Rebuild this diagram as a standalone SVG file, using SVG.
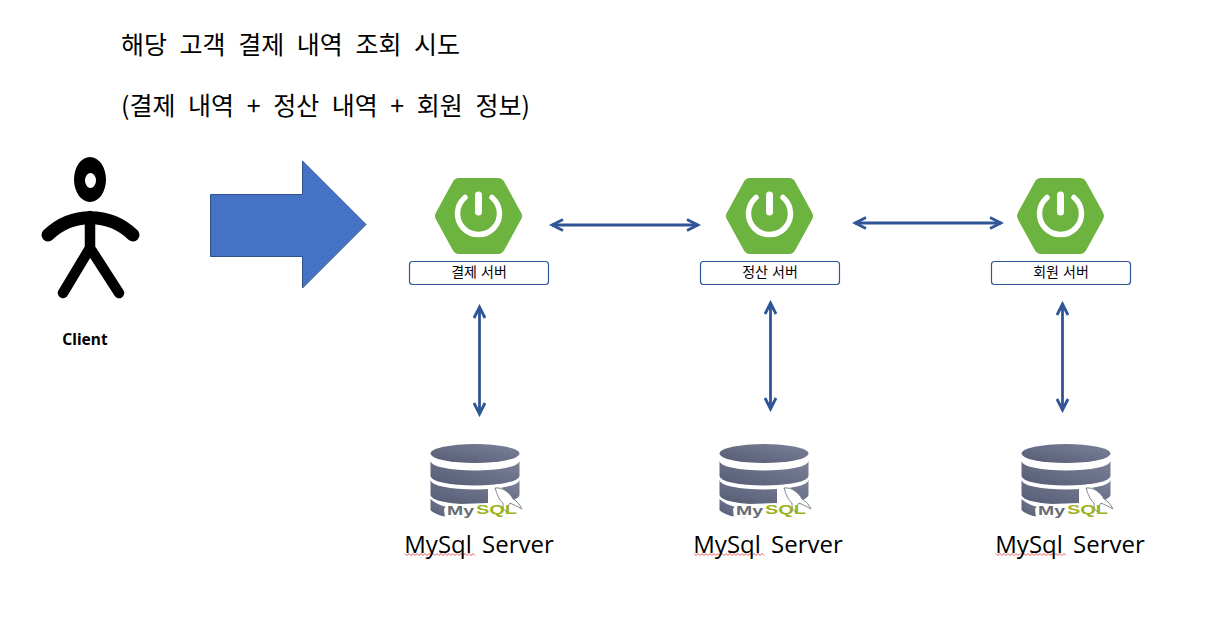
<svg xmlns="http://www.w3.org/2000/svg" width="1230" height="632" viewBox="0 0 1230 632">
<style>
text{font-family:"Noto Sans CJK KR","Noto Sans",sans-serif;fill:#000}
.title{font-size:25px;word-spacing:7px}
.lbl{font-size:14px;text-anchor:middle;word-spacing:1px}
.db{font-family:"Open Sans","Noto Sans",sans-serif;font-size:24px;text-anchor:middle;word-spacing:4px}
.box{fill:#fff;stroke:#2f5597;stroke-width:1.2}
.conn{fill:none;stroke:#2f5597;stroke-width:2.8;marker-start:url(#a);marker-end:url(#a)}
.my{font-family:"Liberation Sans",sans-serif;font-weight:700;font-size:13px}
</style>
<defs>
<marker id="a" markerUnits="userSpaceOnUse" markerWidth="16" markerHeight="14" refX="13" refY="7" orient="auto-start-reverse">
<path d="M2 1.500L13 7L2 12.500" fill="none" stroke="#2f5597" stroke-width="2.8"/>
</marker>
<linearGradient id="g" x1="0" y1="1" x2="1" y2="0"><stop offset="0" stop-color="#555b73"/><stop offset="1" stop-color="#7a8298"/></linearGradient>
<g id="spring">
<path d="M459 185H498L515 216L498 247H459L442 216Z" fill="#6db33f" stroke="#6db33f" stroke-width="14" stroke-linejoin="round"/>
<path d="M465 197.500A21 21 0 1 0 492 197.500" fill="none" stroke="#fff" stroke-width="5.500" stroke-linecap="round"/>
<path d="M478.500 195V212" fill="none" stroke="#fff" stroke-width="7" stroke-linecap="round"/>
</g>
<g id="mysql">
<ellipse cx="475" cy="453.500" rx="44.500" ry="9.500" fill="url(#g)"/>
<path d="M430.500 461A44.500 9.500 0 0 0 519.500 461V476A44.500 9.500 0 0 1 430.500 476Z" fill="url(#g)"/>
<path d="M430.500 480A44.500 9.500 0 0 0 519.500 480V495A44.500 9.500 0 0 1 430.500 495Z" fill="url(#g)"/>
<path d="M430.500 499C437 505 445 507 456 509L456 518L442 516C436 514 432 512 430.500 510Z" fill="url(#g)"/>
<path d="M488 487L498 484L528 516L445 518L444 509C446 505 452 504 460 504L488 503Z" fill="#fff"/>
<path d="M495 488C503 487 510 493 513 499C517 501 520 505 522 509C517 506 514 505 510 503C508 506 507 508 507 512C503 510 503 507 503 503C499 500 497 494 495 488Z" fill="#fff" stroke="#7d858f" stroke-width="1"/>
<text class="my" x="447" y="515" textLength="27" lengthAdjust="spacingAndGlyphs" style="fill:#666d72">My</text>
<text class="my" x="476" y="514" textLength="41" lengthAdjust="spacingAndGlyphs" style="fill:#9bb31d">SQL</text>
</g>
<path id="sq" d="M405 553.500l2 2l2-2l2 2l2-2l2 2l2-2l2 2l2-2l2 2l2-2l2 2l2-2l2 2l2-2l2 2l2-2l2 2l2-2l2 2l2-2l2 2l2-2l2 2l2-2l2 2l2-2l2 2l2-2l2 2l2-2l2 2l2-2l2 2l2-2l2 2" fill="none" stroke="#e03030" stroke-width="0.8"/>
</defs>

<g id="title">
<text class="title" x="121" y="54">해당 고객 결제 내역 조회 시도</text>
<text class="title" x="121" y="115">(결제 내역 + 정산 내역 + 회원 정보)</text>
</g>

<g id="client">
<path fill-rule="evenodd" d="M74 179.500a16 22.500 0 1 0 32 0a16 22.500 0 1 0-32 0ZM85 180.500a5.500 7.500 0 1 1 11 0a5.500 7.500 0 1 1-11 0Z" fill="#000"/>
<path d="M48 235C72 212 109 212 133 235" fill="none" stroke="#000" stroke-width="13" stroke-linecap="round"/>
<path d="M90 216V248M90 248L63 293M90 248L119 293" fill="none" stroke="#000" stroke-width="10.500" stroke-linecap="round" stroke-linejoin="round"/>
<text x="85" y="344.500" font-size="15.500" font-weight="700" text-anchor="middle" style="font-family:'Noto Sans',sans-serif">Client</text>
</g>

<g id="big-arrow"><path d="M210.500 194.500H302.500V161L366 224.500L302.500 288V256.500H210.500Z" fill="#4472c4" stroke="#2f528f" stroke-width="1"/></g>

<g id="server-payment"><use href="#spring"/><rect class="box" x="409.500" y="261.500" width="139" height="23" rx="3"/><text class="lbl" x="479" y="277">결제 서버</text></g>
<g id="server-settlement"><use href="#spring" x="291"/><rect class="box" x="700.500" y="261.500" width="139" height="23" rx="3"/><text class="lbl" x="770" y="277">정산 서버</text></g>
<g id="server-member"><use href="#spring" x="582"/><rect class="box" x="991.500" y="261.500" width="139" height="23" rx="3"/><text class="lbl" x="1061" y="277">회원 서버</text></g>

<g id="db-1"><use href="#mysql"/><use href="#sq"/><text class="db" x="479" y="553">MySql Server</text></g>
<g id="db-2"><use href="#mysql" x="289"/><use href="#sq" x="289"/><text class="db" x="768" y="553">MySql Server</text></g>
<g id="db-3"><use href="#mysql" x="591"/><use href="#sq" x="591"/><text class="db" x="1070" y="553">MySql Server</text></g>

<g id="connectors">
<path class="conn" d="M552 225H698"/>
<path class="conn" d="M855 223H1001"/>
<path class="conn" d="M479.500 307V414"/>
<path class="conn" d="M770.500 303V409"/>
<path class="conn" d="M1062.500 304V410"/>
</g>
</svg>
